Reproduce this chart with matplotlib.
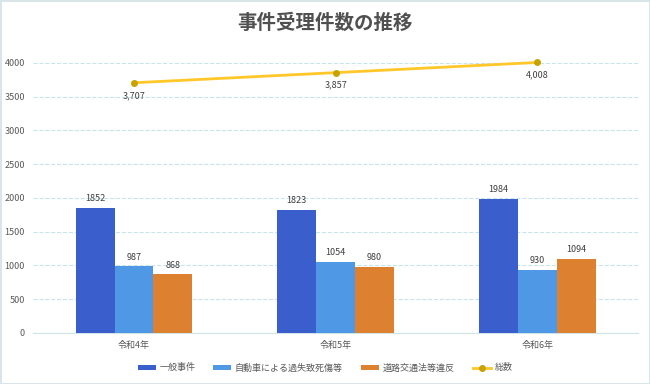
import matplotlib
matplotlib.use("Agg")
import matplotlib.pyplot as plt
import numpy as np

plt.rcParams['font.family'] = ['Noto Sans CJK JP', 'DejaVu Sans']

categories = ['令和4年', '令和5年', '令和6年']
series_names = ['一般事件', '自動車による過失致死傷等', '道路交通法等違反']
general = [1852, 1823, 1984]
traffic_injury = [987, 1054, 930]
traffic_law = [868, 980, 1094]
total = [3707, 3857, 4008]
total_name = '総数'

colors = ['#3a5fcd', '#4f98e6', '#dd8030']
text_color = '#595959'

fig = plt.figure(figsize=(6.5, 3.84), dpi=100)
fig.patch.set_facecolor('white')
fig.patch.set_edgecolor('#d8e6ea')
fig.patch.set_linewidth(1.0)
ax = fig.add_axes([0.051, 0.133, 0.931, 0.703])

x = np.arange(len(categories))
w = 0.193
handles = []
for i, (vals, name) in enumerate(zip([general, traffic_injury, traffic_law], series_names)):
    bars = ax.bar(x + (i - 1) * w, vals, w, color=colors[i], label=name, zorder=3)
    handles.append(bars)
    for b, v in zip(bars, vals):
        ax.text(b.get_x() + b.get_width() / 2, v + 70, str(v), ha='center', va='bottom',
                fontsize=6.5, color='#404040')

line, = ax.plot(x, total, color='#ffc72a', lw=2, marker='o', ms=4, mfc='#c8a200', mec='#c8a200',
                label=total_name, zorder=4, clip_on=False)
handles.append(line)
for xi, v in zip(x, total):
    ax.text(xi, v - 120, f'{v:,}', ha='center', va='top', fontsize=6.5, color='#404040')

ax.set_xlim(-0.5, 2.5)
ax.set_ylim(0, 4000)
ax.set_yticks(np.arange(0, 4001, 500))
ax.set_xticks(x)
ax.set_xticklabels(categories)
ax.tick_params(axis='both', labelsize=6.5, colors=text_color, length=0, pad=6)
ax.grid(axis='y', color='#c9e3ea', ls='--', lw=0.8, zorder=0)
for s in ['top', 'right', 'left']:
    ax.spines[s].set_visible(False)
ax.spines['bottom'].set_color('#d0e4ea')

fig.text(0.5, 0.94, '事件受理件数の推移', ha='center', va='center', fontsize=14,
         fontweight='bold', color='#505050')

fig.legend(handles, series_names + [total_name], loc='center', bbox_to_anchor=(0.5, 0.042),
           ncol=4, frameon=False, fontsize=6.5, labelcolor=text_color, handlelength=2.0,
           handleheight=0.5, handletextpad=0.4, columnspacing=2.0)

fig.savefig('out.png', dpi=100)
